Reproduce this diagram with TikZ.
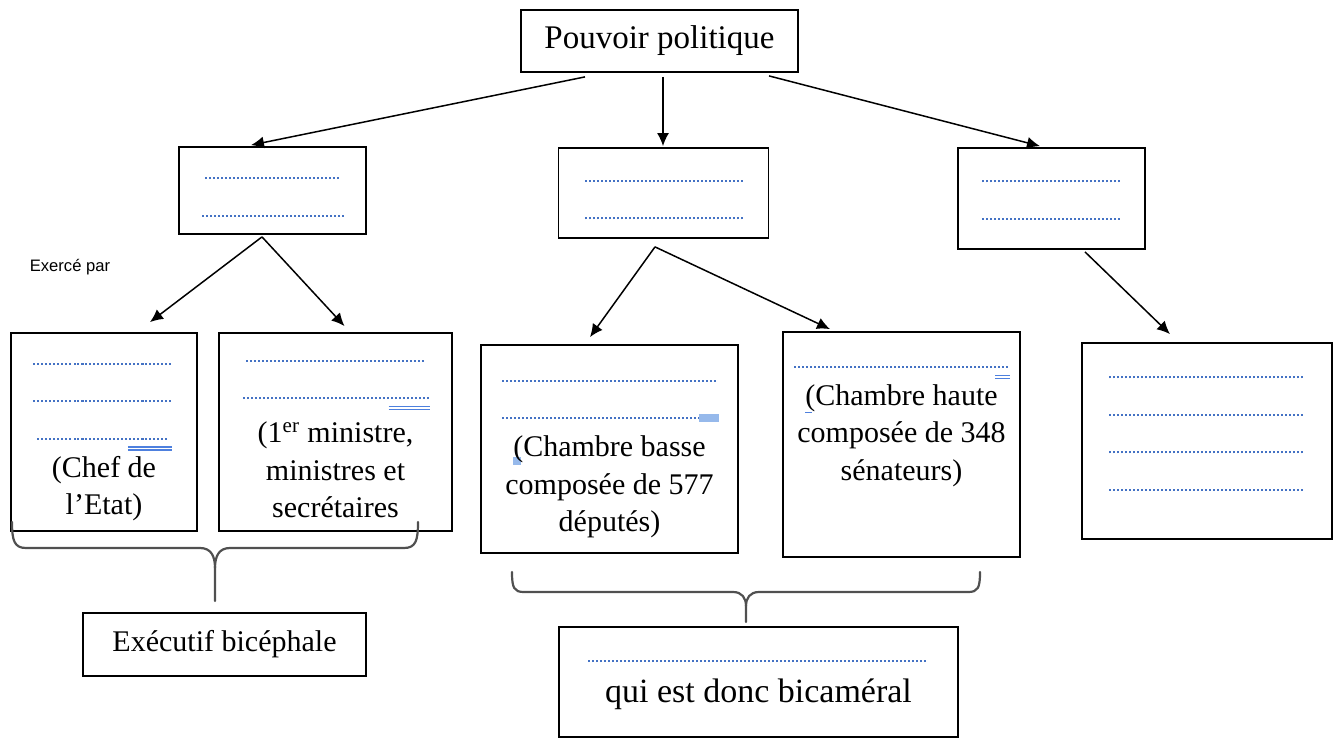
\documentclass[tikz,border=0pt]{standalone}
\usepackage{fontspec}
\setmainfont{Liberation Serif}
\newfontfamily\labelsans{Liberation Sans}
\usepackage{tikz}
\usetikzlibrary{
  arrows.meta,
  positioning
}
\definecolor{BlankBlue}{RGB}{68,114,196}
\definecolor{MarkBlue}{RGB}{78,128,222}
\definecolor{MarkLight}{RGB}{150,185,235}
\definecolor{BraceGray}{RGB}{80,80,80}
\newcommand{\boxfont}{\fontsize{15}{18.75}\selectfont}
\newcommand{\dotline}[1]{\strut{\color{BlankBlue}\leaders\hbox to 2pt{\hss\rule{1pt}{1pt}\hss}\hskip #1\relax}}
\newcommand{\marked}[1]{\llap{\color{MarkBlue}\rule[-4pt]{#1}{0.65pt}\kern-#1\rule[-5.6pt]{#1}{0.65pt}}}
\tikzset{
  levelbox/.style={draw=black,line width=0.9pt,inner sep=0pt,align=center,font=\boxfont},
  titlebox/.style={levelbox,font=\fontsize{16.5}{20}\selectfont},
  blankbox/.style={levelbox,minimum width=93.5pt},
  linkarrow/.style={-{Latex[length=6.5pt,width=6pt]},line width=0.75pt},
  bracepath/.style={draw=BraceGray,line width=1.1pt,line cap=round}
}

\begin{document}
\begin{tikzpicture}[x=0.5pt,y=-0.5pt]
\useasboundingbox (0,0) rectangle (1334,738);

\node[titlebox,minimum width=138.5pt,minimum height=31pt] (pouvoir) at (659.5,41) {Pouvoir politique};

\node[blankbox,minimum height=43.5pt] (exec) at (272.5,190.5) {\dotline{69pt}\\\dotline{72pt}};
\node[blankbox,minimum width=105pt,minimum height=45pt] (legis) at (663.5,193) {\dotline{80pt}\\\dotline{80pt}};
\node[blankbox,minimum height=50.5pt] (judic) at (1051.5,198.5) {\dotline{71pt}\\\dotline{71pt}\rule[-10.6pt]{0pt}{0pt}};

\node[font=\labelsans\fontsize{8.3}{10}\selectfont] (exerce) at (70,267) {Exercé par};

\node[levelbox,minimum width=93pt,minimum height=99pt] (chef) at (104,432)
  {\dotline{71.5pt}\\\dotline{71.5pt}\\\dotline{68pt}\marked{22pt}\\(Chef de\\l’Etat)\strut};
\node[levelbox,minimum width=116.5pt,minimum height=99pt] (gouv) at (335.5,432)
  {\dotline{90.5pt}\\\dotline{94pt}\marked{20.5pt}\\[3pt](1\textsuperscript{er} ministre,\\ministres et\\secrétaires\strut};
\node[levelbox,minimum width=128.5pt,minimum height=104pt] (assemblee) at (609.5,449)
  {\dotline{109pt}\\\dotline{109pt}\llap{\color{MarkLight}\rule[-1.5pt]{10pt}{4pt}}\\\rlap{\color{MarkLight}\rule[-4pt]{4pt}{4pt}}(Chambre basse\\composée de 577\\députés)\strut};
\node[levelbox,minimum width=118.5pt,minimum height=112.5pt] (senat) at (901.5,444.5)
  {\dotline{108.5pt}\marked{7.5pt}\\\rlap{\color{MarkBlue}\rule[-4pt]{3.5pt}{0.65pt}}(Chambre haute\\composée de 348\\sénateurs)\rule[-33.4pt]{0pt}{0pt}};
\node[levelbox,minimum width=125pt,minimum height=98pt] (juges) at (1207,441)
  {\dotline{99.5pt}\\\dotline{99.5pt}\\\dotline{99.5pt}\\\dotline{99.5pt}\rule[-19.6pt]{0pt}{0pt}};

\node[levelbox,minimum width=141.5pt,minimum height=31.5pt] (bicephale) at (224.5,644.5) {Exécutif bicéphale};
\node[levelbox,minimum width=199.5pt,minimum height=55pt,font=\fontsize{17}{20}\selectfont] (bicameral) at (758.5,682)
  {\dotline{171.5pt}\\qui est donc bicaméral\rule[-14pt]{0pt}{0pt}};

\draw[linkarrow] ([xshift=-37.25pt,yshift=-2pt]pouvoir.south) -- ([xshift=-10.75pt,yshift=0.5pt]exec.north);
\draw[linkarrow] ([xshift=1.75pt,yshift=-2pt]pouvoir.south) -- ([xshift=-0.25pt,yshift=0.5pt]legis.north);
\draw[linkarrow] ([xshift=54.75pt,yshift=-1.5pt]pouvoir.south) -- ([xshift=-5.75pt,yshift=0.5pt]judic.north);

\draw[linkarrow] ([xshift=-5.25pt,yshift=-1pt]exec.south) -- ([xshift=23pt,yshift=5pt]chef.north);
\draw[linkarrow] ([xshift=-5.25pt,yshift=-1pt]exec.south) -- ([xshift=4.5pt,yshift=3pt]gouv.north);

\draw[linkarrow] ([xshift=-4.25pt,yshift=-4pt]legis.south) -- ([xshift=-9.75pt,yshift=3.5pt]assemblee.north);
\draw[linkarrow] ([xshift=-4.25pt,yshift=-4pt]legis.south) -- ([xshift=-35.75pt,yshift=1pt]senat.north);

\draw[linkarrow] ([xshift=16.75pt,yshift=-1pt]judic.south) -- ([xshift=-18.5pt,yshift=4pt]juges.north);

\draw[bracepath] (12,522) .. controls (12,540) and (14,548) .. (26,548) -- (200,548) .. controls (211,548) and (215,556) .. (215,568) -- (215,601);
\draw[bracepath] (215,568) .. controls (215,556) and (219,548) .. (230,548) -- (404,548) .. controls (416,548) and (418,540) .. (418,522);

\draw[bracepath] (512,572) .. controls (512,588) and (514,592) .. (524,592) -- (733,592) .. controls (742,592) and (746,598) .. (746,606) -- (746,622);
\draw[bracepath] (746,606) .. controls (746,598) and (750,592) .. (759,592) -- (968,592) .. controls (978,592) and (980,588) .. (980,572);
\end{tikzpicture}
\end{document}
